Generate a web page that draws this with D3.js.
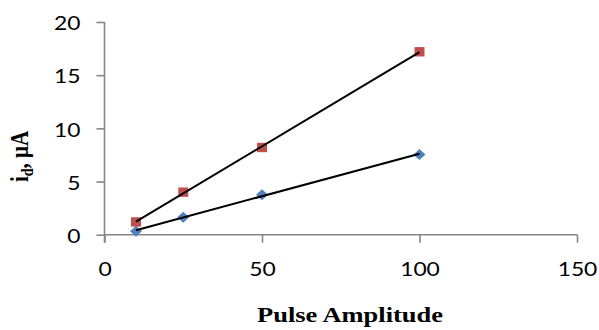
<!DOCTYPE html>
<html><head><meta charset="utf-8">
<script src="https://cdn.jsdelivr.net/npm/d3@7"></script>
<style>body{margin:0;background:#fff}</style>
</head><body>
<svg id="c" width="599" height="330"></svg>
<script>
const pulseAmplitude = [10, 25, 50, 100];
const seriesRed = [1.2, 4.0, 8.2, 17.2];
const seriesBlue = [0.33, 1.65, 3.75, 7.55];
const xTicks = [0, 50, 100, 150];
const yTicks = [0, 5, 10, 15, 20];

const svg = d3.select("#c");
const x = d3.scaleLinear().domain([0,150]).range([104.5,577]);
const y = d3.scaleLinear().domain([0,20]).range([234.7,22]);
const axisColor = "#868686";
const sx = 1.17;

const ya = svg.append("g").attr("transform","translate(104.5,0)")
  .call(d3.axisLeft(y).tickValues(yTicks).tickSize(8).tickPadding(16));
const xa = svg.append("g").attr("transform","translate(0,234.7)")
  .call(d3.axisBottom(x).tickValues(xTicks).tickSize(8).tickPadding(19));
[ya, xa].forEach(a=>{
  a.selectAll("line").attr("stroke",axisColor).attr("stroke-width",1.6);
  a.select(".domain").remove();
  a.selectAll("text").attr("font-family","Lato, 'Open Sans', sans-serif").attr("font-size",19.5).attr("fill","#000")
    .attr("transform",`scale(${sx},1)`);
});
ya.selectAll("text").attr("x", -24/sx).attr("dy","0.4em");
svg.append("line").attr("x1",104.5).attr("x2",104.5).attr("y1",y(20)).attr("y2",y(0)+8).attr("stroke",axisColor).attr("stroke-width",1.6);
svg.append("line").attr("x1",x(0)).attr("x2",x(150)).attr("y1",y(0)).attr("y2",y(0)).attr("stroke",axisColor).attr("stroke-width",1.6);

function fit(xs, ys){
  const mx=d3.mean(xs), my=d3.mean(ys);
  let sxy=0,sxx=0;
  xs.forEach((v,i)=>{sxy+=(v-mx)*(ys[i]-my); sxx+=(v-mx)*(v-mx);});
  const b=sxy/sxx, a=my-b*mx;
  return v=>a+b*v;
}

const series = [{vals:seriesBlue,color:"#4F81BD",shape:"diamond"},{vals:seriesRed,color:"#C0504D",shape:"square"}];
series.forEach(s=>{
  s.pts = pulseAmplitude.map((v,i)=>({x:v,y:s.vals[i]}));
  svg.append("g").selectAll("path").data(s.pts).enter().append("path")
    .attr("transform",d=>`translate(${x(d.x)},${y(d.y)})`)
    .attr("d", s.shape==="square" ? "M-5,-4.7H5V4.7H-5Z" : "M0,-5.5L6,0L0,5.5L-6,0Z")
    .attr("fill", s.color);
});
series.forEach(s=>{
  const f = fit(pulseAmplitude, s.vals);
  const x0 = d3.min(pulseAmplitude), x1 = d3.max(pulseAmplitude);
  svg.append("line").attr("x1",x(x0)).attr("y1",y(f(x0))).attr("x2",x(x1)).attr("y2",y(f(x1)))
    .attr("stroke","#000").attr("stroke-width",2);
});

svg.append("text").attr("x",350).attr("y",321.5).attr("text-anchor","middle")
  .attr("font-family","'Liberation Serif', 'Times New Roman', serif").attr("font-weight","bold").attr("font-size",21)
  .attr("textLength",186).attr("lengthAdjust","spacingAndGlyphs")
  .text("Pulse Amplitude");
const yl = svg.append("text").attr("transform","translate(28,156.5) rotate(-90) scale(1,1.17)").attr("text-anchor","middle")
  .attr("font-family","'Liberation Serif', 'Times New Roman', serif").attr("font-weight","bold").attr("font-size",21);
yl.append("tspan").text("i");
yl.append("tspan").attr("font-size",14).attr("dy",4).text("d");
yl.append("tspan").attr("dy",-4).text(", μA");
</script>
</body></html>
